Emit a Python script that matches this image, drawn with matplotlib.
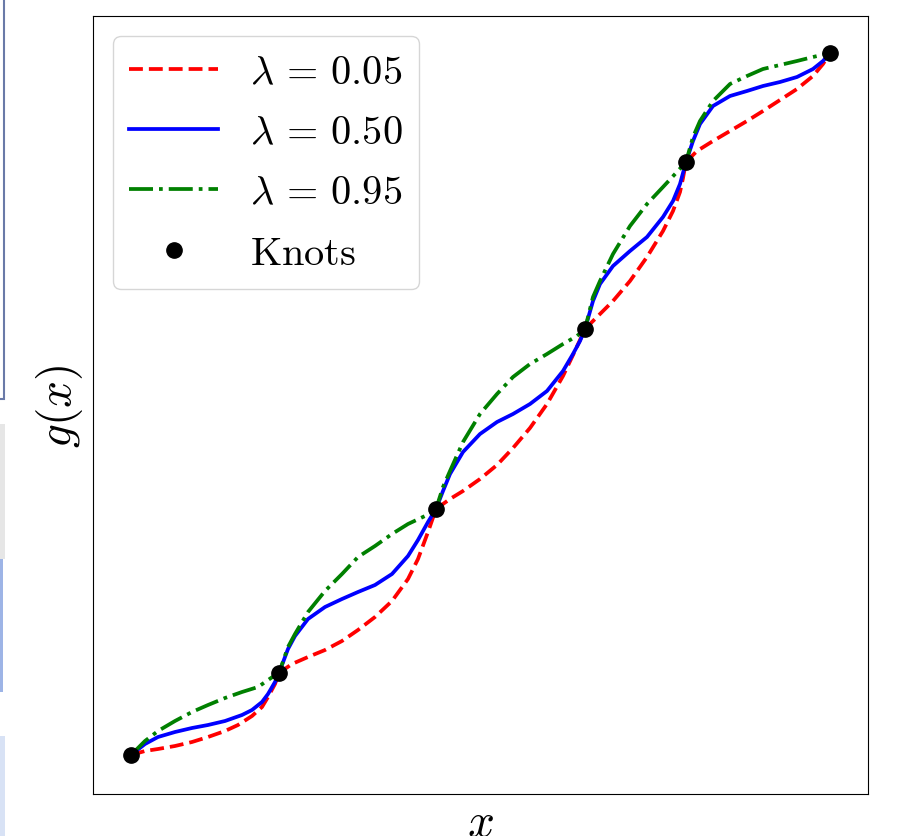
import numpy as np
import matplotlib
matplotlib.use("Agg")
import matplotlib.pyplot as plt
from matplotlib.patches import Rectangle

plt.rcParams["mathtext.fontset"] = "cm"

# knots of g(x)
knot_x = [0.00, 1.48, 3.05, 4.54, 5.55, 6.99]
knot_y = [0.00, 0.82, 2.46, 4.26, 5.93, 7.02]

# lambda = 0.05 (convex pieces)
red_x = [0.00, 0.14, 0.27, 0.44, 0.61, 0.77, 0.94, 1.07, 1.21, 1.31, 1.37, 1.44, 1.48,
         1.61, 1.77, 1.94, 2.11, 2.27, 2.44, 2.61, 2.77, 2.87, 2.97, 3.05,
         3.19, 3.32, 3.49, 3.66, 3.82, 3.99, 4.16, 4.32, 4.42, 4.49, 4.54,
         4.66, 4.82, 4.99, 5.16, 5.32, 5.42, 5.49, 5.52, 5.55,
         5.66, 5.82, 5.99, 6.16, 6.32, 6.49, 6.66, 6.82, 6.92, 6.99]
red_y = [0.00, 0.04, 0.06, 0.09, 0.13, 0.18, 0.24, 0.30, 0.39, 0.48, 0.58, 0.71, 0.82,
         0.91, 0.98, 1.05, 1.14, 1.25, 1.38, 1.54, 1.76, 1.96, 2.23, 2.46,
         2.56, 2.64, 2.76, 2.90, 3.07, 3.27, 3.51, 3.79, 4.00, 4.15, 4.26,
         4.38, 4.54, 4.74, 4.98, 5.24, 5.44, 5.63, 5.77, 5.93,
         6.04, 6.14, 6.24, 6.34, 6.44, 6.55, 6.66, 6.79, 6.91, 7.02]

# lambda = 0.50
blue_x = [0.00, 0.14, 0.27, 0.44, 0.61, 0.77, 0.94, 1.11, 1.21, 1.31, 1.37, 1.44, 1.48,
          1.57, 1.64, 1.77, 1.94, 2.11, 2.27, 2.44, 2.61, 2.77, 2.87, 2.97, 3.05,
          3.12, 3.19, 3.32, 3.49, 3.66, 3.82, 3.99, 4.16, 4.32, 4.42, 4.49, 4.54,
          4.62, 4.69, 4.82, 4.99, 5.16, 5.32, 5.42, 5.49, 5.55,
          5.62, 5.69, 5.82, 5.99, 6.16, 6.32, 6.49, 6.66, 6.82, 6.92, 6.99]
blue_y = [0.00, 0.11, 0.18, 0.23, 0.27, 0.30, 0.34, 0.40, 0.45, 0.53, 0.61, 0.73, 0.82,
          1.06, 1.19, 1.36, 1.48, 1.56, 1.63, 1.70, 1.81, 1.99, 2.15, 2.33, 2.46,
          2.64, 2.81, 3.03, 3.21, 3.33, 3.41, 3.51, 3.64, 3.84, 4.01, 4.14, 4.26,
          4.54, 4.71, 4.89, 5.04, 5.18, 5.38, 5.54, 5.71, 5.93,
          6.14, 6.31, 6.49, 6.59, 6.64, 6.69, 6.73, 6.78, 6.86, 6.94, 7.02]

# lambda = 0.95 (concave pieces)
green_x = [0.00, 0.14, 0.27, 0.44, 0.61, 0.77, 0.94, 1.11, 1.27, 1.40, 1.48,
           1.57, 1.64, 1.77, 1.94, 2.11, 2.27, 2.44, 2.61, 2.77, 2.94, 3.05,
           3.12, 3.19, 3.32, 3.49, 3.66, 3.82, 3.99, 4.16, 4.32, 4.46, 4.54,
           4.62, 4.69, 4.82, 4.99, 5.16, 5.32, 5.45, 5.55,
           5.62, 5.69, 5.82, 5.99, 6.16, 6.32, 6.49, 6.66, 6.82, 6.99]
green_y = [0.00, 0.14, 0.24, 0.34, 0.43, 0.50, 0.57, 0.63, 0.68, 0.77, 0.82,
           1.08, 1.21, 1.43, 1.64, 1.81, 1.98, 2.09, 2.21, 2.31, 2.39, 2.46,
           2.68, 2.84, 3.13, 3.41, 3.61, 3.78, 3.91, 4.01, 4.11, 4.19, 4.26,
           4.58, 4.74, 5.01, 5.29, 5.51, 5.68, 5.82, 5.93,
           6.18, 6.34, 6.54, 6.71, 6.79, 6.86, 6.90, 6.94, 6.98, 7.02]

labels = [r"$\lambda\,=\,0.05$", r"$\lambda\,=\,0.50$", r"$\lambda\,=\,0.95$",
          r"$\mathrm{Knots}$"]


def main():
    fig = plt.figure(figsize=(8.97, 8.37), dpi=100)
    ax = fig.add_axes([93 / 897, 1 - 795 / 837, 775 / 897, 778 / 837])

    ax.plot(red_x, red_y, color="red", ls="--", lw=2.7, label=labels[0])
    ax.plot(blue_x, blue_y, color="blue", ls="-", lw=2.7, label=labels[1])
    ax.plot(green_x, green_y, color="green", ls="-.", lw=2.7, label=labels[2])
    ax.plot(knot_x, knot_y, "o", color="black", ms=11, ls="none", label=labels[3], zorder=5)

    ax.set_xlim(-0.38, 7.37)
    ax.set_ylim(-0.39, 7.39)
    ax.set_xticks([])
    ax.set_yticks([])
    ax.set_xlabel(r"$x$", fontsize=34, labelpad=4)
    ax.set_ylabel(r"$g(x)$", fontsize=34, labelpad=6)
    ax.legend(loc="upper left", fontsize=29, handlelength=2.2)

    # screenshot debris on the left edge
    fig.patches.append(Rectangle((-5, 437), 9, 450, transform=None, fill=False,
                                 edgecolor="#6a7aa8", lw=1.5))
    fig.patches.append(Rectangle((0, 277), 5, 135, transform=None,
                                 facecolor="#e6e6e6", edgecolor="none"))
    fig.patches.append(Rectangle((0, 144), 3, 133, transform=None,
                                 facecolor="#9db4e6", edgecolor="none"))
    fig.patches.append(Rectangle((0, 0), 5, 100, transform=None,
                                 facecolor="#d8e2f5", edgecolor="none"))

    fig.savefig("out.png", dpi=100)
    plt.close(fig)


if __name__ == "__main__":
    main()
